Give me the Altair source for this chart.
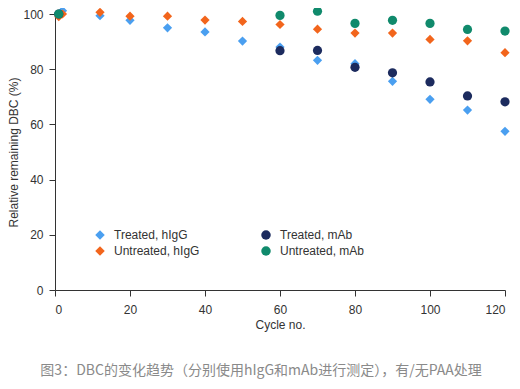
import altair as alt
import pandas as pd

series_names = ["Treated, hIgG", "Untreated, hIgG", "Treated, mAb", "Untreated, mAb"]

treated_higg_cycle = [2, 12, 20, 30, 40, 50, 60, 70, 80, 90, 100, 110, 120]
treated_higg_value = [101.2, 99.4, 97.7, 95.0, 93.5, 90.2, 88.0, 83.2, 82.0, 75.6, 69.1, 65.2, 57.5]

untreated_higg_cycle = [1, 2, 12, 20, 30, 40, 50, 60, 70, 80, 90, 100, 110, 120]
untreated_higg_value = [99.0, 100.0, 100.6, 99.2, 99.2, 97.8, 97.3, 96.2, 94.5, 93.1, 93.1, 90.8, 90.3, 86.0]

treated_mab_cycle = [1, 60, 70, 80, 90, 100, 110, 120]
treated_mab_value = [100.0, 86.7, 86.8, 80.7, 78.7, 75.4, 70.3, 68.2]

untreated_mab_cycle = [1, 60, 70, 80, 90, 100, 110, 120]
untreated_mab_value = [100.0, 99.5, 101.0, 96.6, 97.7, 96.6, 94.4, 93.8]

series_colors = ["#4a9ff0", "#f2651c", "#1c2b5e", "#108a6c"]
series_shapes = ["diamond", "diamond", "circle", "circle"]

rows = []
for i, (name, cyc, val) in enumerate(zip(
    series_names,
    [treated_higg_cycle, untreated_higg_cycle, treated_mab_cycle, untreated_mab_cycle],
    [treated_higg_value, untreated_higg_value, treated_mab_value, untreated_mab_value],
)):
    for c, v in zip(cyc, val):
        rows.append({"series": name, "cycle": c, "value": v, "draw": i})
df = pd.DataFrame(rows)

font = "Liberation Sans"

legend = alt.Legend(
    title=None,
    orient="none",
    legendX=39,
    legendY=215,
    columns=2,
    columnPadding=60,
    rowPadding=4,
    symbolSize=90,
    labelFontSize=12,
    labelFont=font,
    labelColor="#333333",
    labelOffset=8,
)

chart = (
    alt.Chart(df)
    .mark_point(filled=True, opacity=1, size=85)
    .encode(
        x=alt.X(
            "cycle:Q",
            title="Cycle no.",
            scale=alt.Scale(domain=[0, 120], nice=False),
            axis=alt.Axis(values=[0, 20, 40, 60, 80, 100, 120], grid=False,
                          tickSize=6, labelPadding=8, titlePadding=4),
        ),
        y=alt.Y(
            "value:Q",
            title="Relative remaining DBC (%)",
            scale=alt.Scale(domain=[0, 100], nice=False),
            axis=alt.Axis(values=[0, 20, 40, 60, 80, 100], grid=False,
                          tickSize=6, labelPadding=6, titlePadding=2),
        ),
        color=alt.Color(
            "series:N",
            scale=alt.Scale(domain=series_names, range=series_colors),
            legend=legend,
        ),
        shape=alt.Shape(
            "series:N",
            scale=alt.Scale(domain=series_names, range=series_shapes),
            legend=legend,
        ),
        order=alt.Order("draw:Q"),
    )
    .properties(
        width=450,
        height=276,
        autosize=alt.AutoSizeParams(type="none"),
        padding={"left": 47, "top": 6, "right": 7, "bottom": 91},
        title=alt.TitleParams(
            "图3：DBC的变化趋势（分别使用hIgG和mAb进行测定），有/无PAA处理",
            orient="bottom",
            anchor="middle",
            font="Noto Sans CJK SC",
            fontSize=14,
            fontWeight="normal",
            color="#8a8a8a",
            offset=34,
            dx=-19,
        ),
    )
    .configure_view(stroke=None)
    .configure_axis(
        domainColor="#333333",
        tickColor="#333333",
        labelColor="#333333",
        titleColor="#333333",
        labelFont=font,
        titleFont=font,
        labelFontSize=12,
        titleFontSize=12,
        titleFontWeight="normal",
    )
)

chart.save("out.html", embed_options={"renderer": "svg", "actions": False})
